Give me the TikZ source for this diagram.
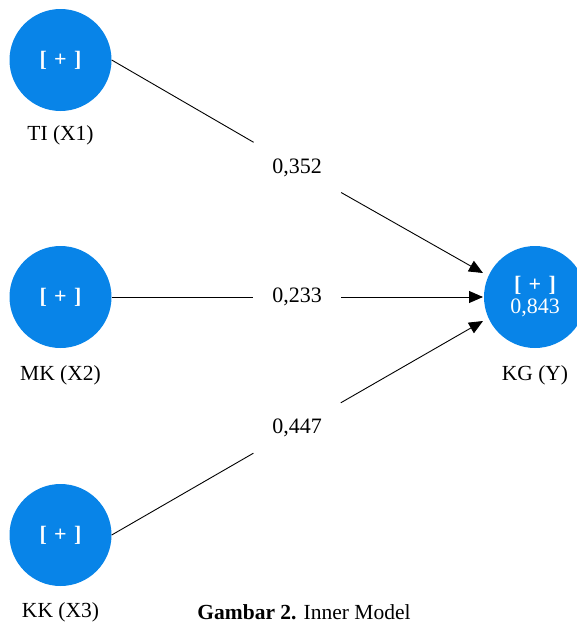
\documentclass[tikz,border=0pt]{standalone}
\usepackage{fontspec}
\setmainfont{Liberation Serif}
\usetikzlibrary{arrows.meta}
\definecolor{lvblue}{RGB}{8,132,232}
\newcommand{\plusmark}{\textbf{[\,\,+\,\,]}}
\begin{document}
\begin{tikzpicture}[x=1pt,y=-1pt,
  latent/.style={circle,fill=lvblue,minimum size=102pt,inner sep=0pt,
    text=white,font=\fontsize{22}{24}\selectfont,align=center},
  caption/.style={font=\fontsize{21.5}{24}\selectfont,inner sep=0pt},
  coef/.style={minimum width=88pt,minimum height=50pt,inner sep=0pt,
    font=\fontsize{22}{24}\selectfont},
  path/.style={draw=black,line width=0.9pt},
  arr/.style={path,-{Triangle[length=14pt,width=12pt]}}]
\useasboundingbox (0,0) rectangle (577,624);
% latent variables
\node[latent] (TI) at (60.5,60) {\plusmark};
\node[latent] (MK) at (60.5,297) {\plusmark};
\node[latent] (KK) at (60.5,535) {\plusmark};
\node[latent] (KG) at (535,297) {\plusmark\\[-2pt]0,843};
% labels under the circles
\node[caption] (tiL) at (60.5,135) {TI (X1)};
\node[caption] (mkL) at (60.5,375) {MK (X2)};
\node[caption] (kkL) at (60.5,612) {KK (X3)};
\node[caption] (kgL) at (535,375) {KG (Y)};
% arrow tips on the endogenous side
\coordinate (t1) at (483,273);
\coordinate (t2) at (483,297);
\coordinate (t3) at (483,321);
% path coefficients
\node[coef] (c1) at (297,167.5) {0,352};
\node[coef] (c2) at (297,297) {0,233};
\node[coef] (c3) at (297,428) {0,447};
% connectors
\draw[path] (TI.east) -- (c1);
\draw[arr] (c1) -- (t1);
\draw[path] (MK.east) -- (c2);
\draw[arr] (c2) -- (t2);
\draw[path] (KK.east) -- (c3);
\draw[arr] (c3) -- (t3);
% figure caption
\node[caption,anchor=base] (cap) at (304,619.5) {\textbf{Gambar 2.} Inner Model};
\end{tikzpicture}
\end{document}
